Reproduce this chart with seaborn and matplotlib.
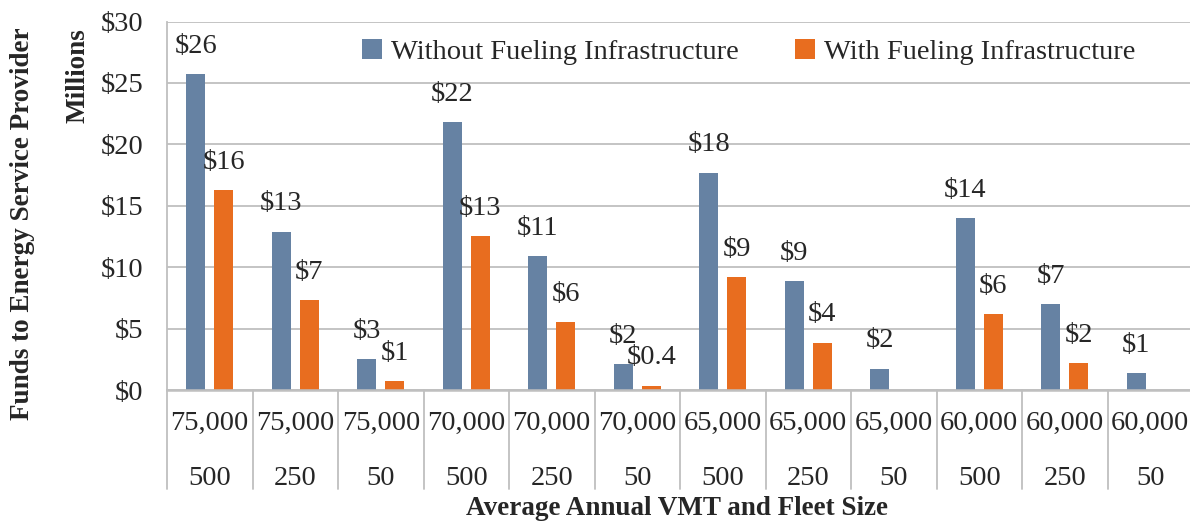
import numpy as np
import pandas as pd
import seaborn as sns
import matplotlib.pyplot as plt
import matplotlib.transforms as mtransforms

# Chart data ($ millions)
vmt = ["75,000"] * 3 + ["70,000"] * 3 + ["65,000"] * 3 + ["60,000"] * 3
fleet = ["500", "250", "50"] * 4
without_fuel = [25.7, 12.9, 2.5, 21.8, 10.9, 2.1, 17.7, 8.85, 1.75, 14.0, 7.0, 1.35]
with_fuel = [16.3, 7.3, 0.7, 12.5, 5.5, 0.35, 9.2, 3.85, 0.0, 6.2, 2.2, 0.0]
without_labels = ["$26", "$13", "$3", "$22", "$11", "$2", "$18", "$9", "$2", "$14", "$7", "$1"]
with_labels = ["$16", "$7", "$1", "$13", "$6", "$0.4", "$9", "$4", "", "$6", "$2", ""]
series = ["Without Fueling Infrastructure", "With Fueling Infrastructure"]
yticks = [0, 5, 10, 15, 20, 25, 30]

cats = [f"{v} {f}" for v, f in zip(vmt, fleet)]
df = pd.DataFrame({
    "cat": cats * 2,
    "value": without_fuel + with_fuel,
    "series": [series[0]] * len(cats) + [series[1]] * len(cats),
})

sns.set_style("white")
plt.rcParams["font.family"] = ["Liberation Serif", "DejaVu Serif"]

blue = "#6682a3"
orange = "#e86d1f"
grid_c = "#bfbfbf"
fs = 20.5
bold_fs = 19.5

fig = plt.figure(figsize=(11.9, 5.23), dpi=100)
ax = fig.add_axes([167 / 1190, 133 / 523, 1026 / 1190, 368.5 / 523])

sns.barplot(data=df, x="cat", y="value", hue="series", order=cats, hue_order=series,
            palette=[blue, orange], saturation=1, width=0.655, gap=0.32, linewidth=0,
            errorbar=None, ax=ax)

ax.set_xlim(-0.5, len(cats) - 0.5)
ax.set_ylim(0, 30)
ax.set_yticks(yticks)
ax.set_yticklabels([f"${t}" for t in yticks], fontsize=fs)
ax.tick_params(axis="y", length=0, pad=17)
ax.set_xticks(range(len(cats)))
ax.set_xticklabels([])
ax.tick_params(axis="x", length=0)
ax.set_xlabel("")
ax.set_ylabel("")
ax.yaxis.grid(True, color=grid_c, lw=1.3)
ax.set_axisbelow(True)
for s in ["top", "right"]:
    ax.spines[s].set_visible(False)
ax.spines["left"].set_color(grid_c)
ax.spines["left"].set_linewidth(1.3)
ax.spines["bottom"].set_color(grid_c)
ax.spines["bottom"].set_linewidth(1.8)

# data labels
for cont, labs in zip(ax.containers, [without_labels, with_labels]):
    for p, lab in zip(cont.patches, labs):
        if not lab:
            continue
        ax.annotate(lab, (p.get_x() + p.get_width() / 2, p.get_height()),
                    xytext=(0, 20), textcoords="offset points",
                    ha="center", va="center", fontsize=fs)

# two-level category axis
trans = mtransforms.blended_transform_factory(ax.transData, ax.transAxes)
for i, (v, f) in enumerate(zip(vmt, fleet)):
    ax.text(i, -0.092, v, transform=trans, ha="center", va="center", fontsize=fs)
    ax.text(i, -0.241, f, transform=trans, ha="center", va="center", fontsize=fs)
for b in np.arange(-0.5, len(cats), 1.0):
    ax.plot([b, b], [0, -0.269], transform=trans, color=grid_c, lw=1.3, clip_on=False)

# legend
ax.legend(loc="center", bbox_to_anchor=(0.567, 0.917), ncol=2, frameon=False,
          fontsize=fs, handlelength=0.7, handleheight=0.7, handletextpad=0.3,
          columnspacing=2.0)

fig.text(0.569, 0.027, "Average Annual VMT and Fleet Size", ha="center", va="center",
         fontsize=bold_fs, fontweight="bold")
fig.text(0.0185, 0.572, "Funds to Energy Service Provider", rotation=90,
         ha="center", va="center", fontsize=bold_fs, fontweight="bold")
fig.text(0.0655, 0.855, "Millions", rotation=90, ha="center", va="center",
         fontsize=bold_fs, fontweight="bold")

fig.savefig("out.png", dpi=100)
